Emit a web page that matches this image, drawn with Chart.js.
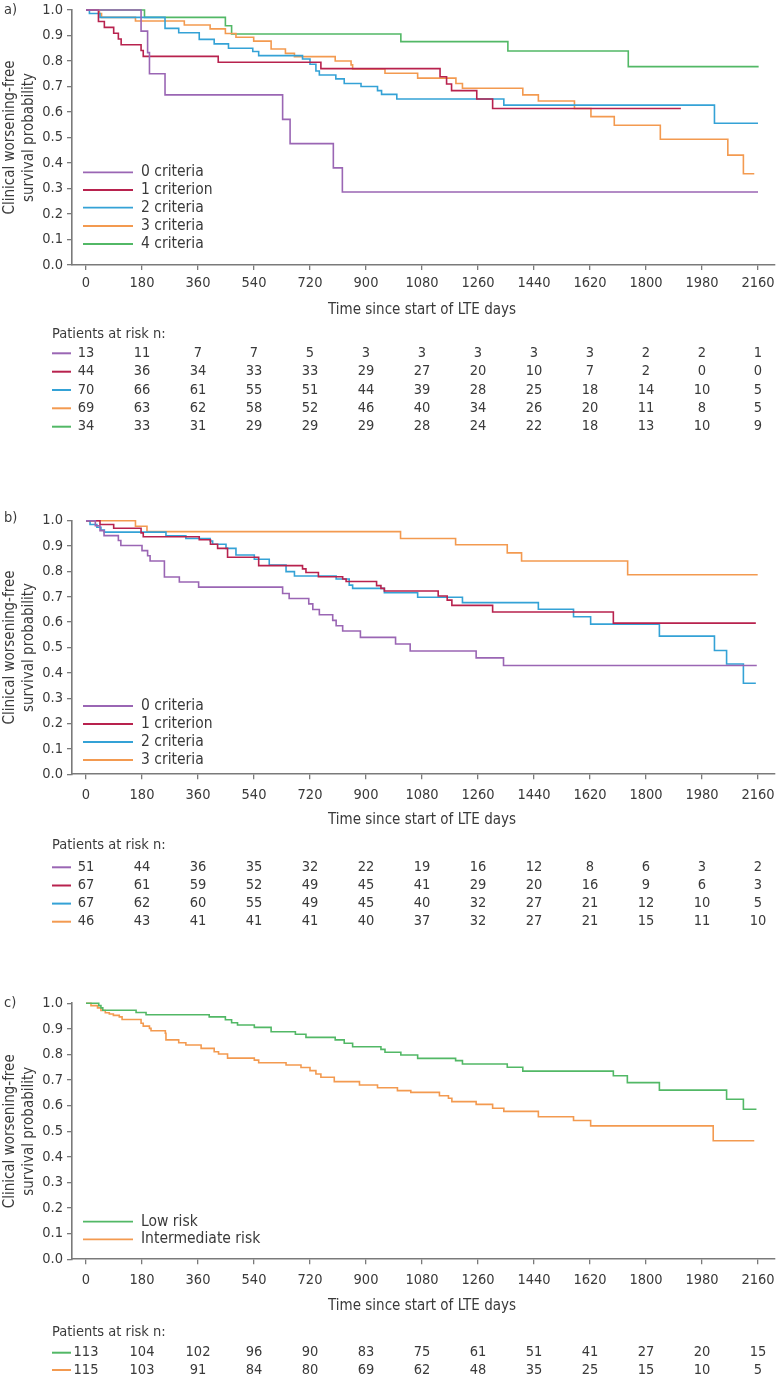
<!DOCTYPE html>
<html><head><meta charset="utf-8">
<script src="https://cdn.jsdelivr.net/npm/chart.js@4/dist/chart.umd.min.js"></script>
<style>
html,body{margin:0;padding:0;background:#fff;}
#wrap{position:relative;width:776px;height:1379px;overflow:hidden;}
canvas{position:absolute;left:0;}
</style></head><body>
<div id="wrap">
<canvas id="ca"></canvas>
<canvas id="cb"></canvas>
<canvas id="cc"></canvas>
</div>
<script>
// ---------- shared axis ticks ----------
const xTicks = [0,180,360,540,720,900,1080,1260,1440,1620,1800,1980,2160];
const yTicks = [0,0.1,0.2,0.3,0.4,0.5,0.6,0.7,0.8,0.9,1.0];
const xTitle = 'Time since start of LTE days';
const yTitle = ['Clinical worsening-free','survival probability'];
const riskTitle = 'Patients at risk n:';

// ---------- panel a ----------
const aLabels = ['0 criteria','1 criterion','2 criteria','3 criteria','4 criteria'];
const aT0 = [0,177,198,204,254,632,656,795,824,2160];
const aS0 = [1,0.917,0.833,0.750,0.667,0.571,0.476,0.381,0.286,0.286];
const aT1 = [0,40,59,89,104,113,177,184,425,755,1138,1159,1175,1256,1307,1912];
const aS1 = [1,0.955,0.932,0.909,0.886,0.864,0.841,0.818,0.795,0.770,0.738,0.710,0.684,0.651,0.614,0.614];
const aT2 = [0,11,45,254,298,364,412,458,536,555,696,720,739,750,803,830,884,937,950,999,1343,2020,2160];
const aS2 = [1,0.986,0.971,0.928,0.911,0.885,0.867,0.850,0.837,0.821,0.808,0.787,0.761,0.745,0.730,0.712,0.700,0.684,0.669,0.651,0.627,0.556,0.556];
const aT3 = [0,43,50,159,316,399,448,482,539,595,641,670,801,852,857,961,1066,1189,1210,1404,1454,1570,1623,1698,1846,2063,2113,2148];
const aS3 = [1,0.986,0.971,0.957,0.941,0.926,0.908,0.893,0.878,0.847,0.830,0.817,0.800,0.785,0.769,0.752,0.733,0.712,0.693,0.667,0.643,0.614,0.582,0.548,0.493,0.431,0.358,0.358];
const aT4 = [0,188,448,468,1012,1356,1743,2162];
const aS4 = [1,0.971,0.938,0.906,0.876,0.839,0.778,0.778];
const aRisk0 = [13,11,7,7,5,3,3,3,3,3,2,2,1];
const aRisk1 = [44,36,34,33,33,29,27,20,10,7,2,0,0];
const aRisk2 = [70,66,61,55,51,44,39,28,25,18,14,10,5];
const aRisk3 = [69,63,62,58,52,46,40,34,26,20,11,8,5];
const aRisk4 = [34,33,31,29,29,29,28,24,22,18,13,10,9];

// ---------- panel b ----------
const bLabels = ['0 criteria','1 criterion','2 criteria','3 criteria'];
const bT0 = [0,30,45,58,104,112,180,198,206,252,300,362,632,653,716,729,750,793,804,825,882,995,1042,1254,1342,2156];
const bS0 = [1,0.980,0.961,0.941,0.922,0.902,0.882,0.862,0.841,0.778,0.758,0.738,0.713,0.693,0.672,0.650,0.629,0.607,0.586,0.565,0.540,0.514,0.486,0.459,0.429,0.429];
const bT1 = [0,45,89,177,184,364,400,423,455,555,696,707,747,825,836,934,948,959,1132,1161,1176,1307,1695,2153];
const bS1 = [1,0.985,0.970,0.952,0.937,0.925,0.907,0.891,0.856,0.823,0.810,0.796,0.779,0.770,0.760,0.744,0.733,0.723,0.703,0.687,0.666,0.640,0.596,0.596];
const bT2 = [0,13,35,48,59,257,321,399,407,450,482,541,589,643,670,804,846,857,959,1066,1210,1454,1567,1622,1843,2020,2059,2113,2153];
const bS2 = [1,0.985,0.974,0.963,0.955,0.940,0.930,0.920,0.907,0.891,0.865,0.848,0.825,0.799,0.782,0.770,0.746,0.733,0.716,0.698,0.677,0.651,0.621,0.592,0.545,0.488,0.435,0.359,0.359];
const bT3 = [0,159,196,1011,1188,1354,1400,1741,2159];
const bS3 = [1,0.978,0.957,0.930,0.905,0.873,0.841,0.787,0.787];
const bRisk0 = [51,44,36,35,32,22,19,16,12,8,6,3,2];
const bRisk1 = [67,61,59,52,49,45,41,29,20,16,9,6,3];
const bRisk2 = [67,62,60,55,49,45,40,32,27,21,12,10,5];
const bRisk3 = [46,43,41,41,41,40,37,32,27,21,15,11,10];

// ---------- panel c ----------
const cLabels = ['Low risk','Intermediate risk'];
const cT0 = [0,41,48,54,161,193,396,448,468,487,541,595,673,707,801,830,857,948,961,1012,1066,1188,1210,1354,1404,1695,1740,1843,2059,2113,2155];
const cS0 = [1,0.991,0.982,0.973,0.964,0.955,0.947,0.936,0.924,0.915,0.906,0.889,0.879,0.867,0.857,0.844,0.830,0.820,0.809,0.798,0.785,0.776,0.763,0.750,0.735,0.717,0.690,0.661,0.625,0.586,0.586];
const cT1 = [0,16,37,48,62,75,88,107,116,177,184,204,209,255,257,298,321,370,412,426,455,541,555,643,691,720,739,755,798,879,937,1001,1044,1136,1165,1176,1254,1307,1343,1454,1567,1622,2016,2148];
const cS1 = [1,0.991,0.982,0.972,0.963,0.958,0.953,0.947,0.937,0.922,0.911,0.902,0.893,0.883,0.857,0.846,0.837,0.824,0.811,0.802,0.786,0.778,0.768,0.759,0.749,0.737,0.724,0.711,0.694,0.681,0.670,0.659,0.652,0.639,0.629,0.616,0.605,0.590,0.578,0.557,0.542,0.521,0.463,0.463];
const cRisk0 = [113,104,102,96,90,83,75,61,51,41,27,20,15];
const cRisk1 = [115,103,91,84,80,69,62,48,35,25,15,10,5];

// ---------- styles ----------
const PURPLE='#9a66b4', CRIMSON='#b8224e', BLUE='#34a2d6', ORANGE='#f39a50', GREEN='#52b866';
const TXT='#3a3a3a', AX='#7a7a7a';
const FONT='"DejaVu Sans Condensed","DejaVu Sans",sans-serif';
const FS=14.5;

function fontStr(sz){ return sz+'px '+FONT; }

function buildPanel(L, series, risks){
  const cv = document.getElementById(L.canvas);
  cv.width = 776; cv.height = L.height; cv.style.top = L.top+'px';
  cv.style.width='776px'; cv.style.height=L.height+'px';
  const loc = v => v - L.top;
  const datasets = series.map(s => ({
    label: s.label,
    data: s.t.map((t,i)=>({x:t,y:s.s[i]})),
    borderColor: s.color, backgroundColor: s.color, borderWidth: 1.6,
    pointRadius: 0, stepped: 'before', fill: false, tension: 0, clip: false
  }));
  const lh = FS*1.2;
  const extras = {
    id:'extras',
    afterDraw(chart){
      const ctx = chart.ctx, xs = chart.scales.x, ca = chart.chartArea;
      ctx.save();
      ctx.fillStyle = TXT;
      ctx.font = fontStr(FS); ctx.textAlign='left'; ctx.textBaseline='middle';
      ctx.fillText(L.letter, 4, loc(L.letterY));
      ctx.save();
      ctx.translate(0, (ca.top+ca.bottom)/2);
      ctx.rotate(-Math.PI/2);
      ctx.textAlign='center'; ctx.textBaseline='middle'; ctx.font=fontStr(15);
      ctx.fillText(yTitle[0], 0, 10);
      ctx.fillText(yTitle[1], 0, 29);
      ctx.restore();
      ctx.textAlign='center'; ctx.textBaseline='middle'; ctx.font=fontStr(15);
      ctx.fillText(xTitle, xs.getPixelForValue(1080), loc(L.titleY));
      ctx.font = fontStr(15.5); ctx.textAlign='left';
      series.forEach((s,i)=>{
        const y = loc(L.legendY[i]);
        ctx.strokeStyle=s.color; ctx.lineWidth=1.8;
        ctx.beginPath(); ctx.moveTo(83,y); ctx.lineTo(133,y); ctx.stroke();
        ctx.fillStyle=TXT; ctx.fillText(s.label, 141, y);
      });
      ctx.font = fontStr(FS); ctx.textAlign='left';
      ctx.fillText(riskTitle, 52, loc(L.patY));
      risks.forEach((row,i)=>{
        const y = loc(L.rowY[i]);
        ctx.strokeStyle=series[i].color; ctx.lineWidth=2;
        ctx.beginPath(); ctx.moveTo(52,y); ctx.lineTo(71,y); ctx.stroke();
        ctx.fillStyle=TXT; ctx.textAlign='center';
        row.forEach((n,j)=>{ ctx.fillText(String(n), xs.getPixelForValue(xTicks[j]), y); });
      });
      ctx.restore();
    }
  };
  new Chart(cv, {
    type:'line',
    data:{datasets},
    options:{
      responsive:false, animation:false, events:[], devicePixelRatio:1,
      layout:{padding:{top:L.plotTop-L.top, right:1, left:0, bottom:0}},
      plugins:{legend:{display:false}, tooltip:{enabled:false}, title:{display:false}},
      scales:{
        x:{type:'linear', min:-45, max:2214.6,
          afterBuildTicks: sc => { sc.ticks = xTicks.map(v=>({value:v})); },
          afterFit: sc => { sc.height = L.height - (L.plotBottom - L.top); sc.paddingLeft=0; sc.paddingRight=0; },
          ticks:{autoSkip:false, maxRotation:0, minRotation:0, font:{family:FONT,size:FS}, color:TXT,
                 padding:(L.tickY - L.plotBottom) - 5 - lh/2, callback:v=>String(v)},
          grid:{drawOnChartArea:false, drawTicks:true, tickLength:5, color:AX, lineWidth:1.3},
          border:{display:true, color:AX, width:1.6}
        },
        y:{type:'linear', min:0, max:1,
          afterBuildTicks: sc => { sc.ticks = yTicks.map(v=>({value:v})); },
          afterFit: sc => { sc.width = 72; sc.paddingTop=0; sc.paddingBottom=0; },
          ticks:{font:{family:FONT,size:FS}, color:TXT, padding:4, callback:v=>Number(v).toFixed(1)},
          grid:{drawOnChartArea:false, drawTicks:true, tickLength:5, color:AX, lineWidth:1.3},
          border:{display:true, color:AX, width:1.6}
        }
      }
    },
    plugins:[extras]
  });
}

buildPanel(
  {canvas:'ca', top:0, height:462, plotTop:10, plotBottom:265, tickY:283.5, letter:'a)', letterY:10,
   legendY:[172.3,190,207.7,226,244], titleY:310, patY:334, rowY:[353.3,371.7,390,408.3,426.7]},
  [{label:aLabels[0], t:aT0, s:aS0, color:PURPLE},
   {label:aLabels[1], t:aT1, s:aS1, color:CRIMSON},
   {label:aLabels[2], t:aT2, s:aS2, color:BLUE},
   {label:aLabels[3], t:aT3, s:aS3, color:ORANGE},
   {label:aLabels[4], t:aT4, s:aS4, color:GREEN}],
  [aRisk0,aRisk1,aRisk2,aRisk3,aRisk4]
);
buildPanel(
  {canvas:'cb', top:462, height:488, plotTop:520.7, plotBottom:774.3, tickY:795, letter:'b)', letterY:518,
   legendY:[706,724,742,760], titleY:820, patY:845, rowY:[867.3,885.5,903.6,921.7]},
  [{label:bLabels[0], t:bT0, s:bS0, color:PURPLE},
   {label:bLabels[1], t:bT1, s:bS1, color:CRIMSON},
   {label:bLabels[2], t:bT2, s:bS2, color:BLUE},
   {label:bLabels[3], t:bT3, s:bS3, color:ORANGE}],
  [bRisk0,bRisk1,bRisk2,bRisk3]
);
buildPanel(
  {canvas:'cc', top:950, height:429, plotTop:1003.3, plotBottom:1259.3, tickY:1280, letter:'c)', letterY:1003,
   legendY:[1221.7,1239.3], titleY:1306, patY:1332, rowY:[1352.7,1370]},
  [{label:cLabels[0], t:cT0, s:cS0, color:GREEN},
   {label:cLabels[1], t:cT1, s:cS1, color:ORANGE}],
  [cRisk0,cRisk1]
);
</script>
</body></html>
